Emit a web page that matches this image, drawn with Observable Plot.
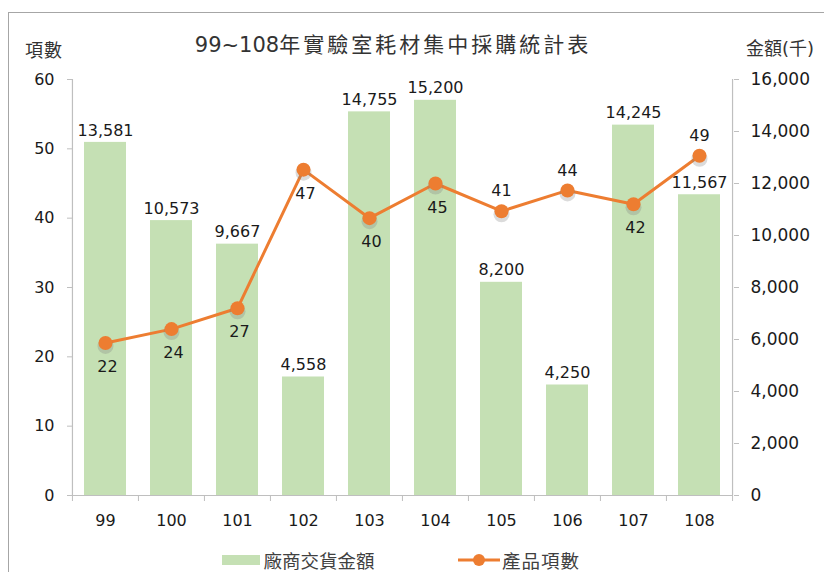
<!DOCTYPE html>
<html><head><meta charset="utf-8">
<script src="https://cdn.jsdelivr.net/npm/d3@7"></script>
<script src="https://cdn.jsdelivr.net/npm/@observablehq/plot@0.6"></script>
<style>
html,body{margin:0;padding:0;background:#fff;}
#wrap{position:relative;width:824px;height:572px;overflow:hidden;font-family:"DejaVu Sans","Noto Sans CJK TC",sans-serif;color:#1a1a1a;}
#border{position:absolute;left:8px;top:12px;width:900px;height:700px;border-top:1px solid #a6a6a6;border-left:1px solid #a6a6a6;}
#chart{position:absolute;left:0;top:0;}
.t{position:absolute;white-space:nowrap;line-height:1;transform:translate(-50%,-50%);}
.cjk{font-family:"Noto Sans CJK TC","DejaVu Sans",sans-serif;}
#legend{position:absolute;left:0;top:0;width:824px;height:572px;pointer-events:none;}
</style></head><body>
<div id="wrap">
  <div id="border"></div>
  <div id="chart"></div>
  <div class="t" id="title" style="left:393px;top:44px;font-size:21px;color:#333"><span>99~108</span><span class="cjk" style="letter-spacing:3px">年實驗室耗材集中採購統計表</span></div>
  <div class="t cjk" id="ylabL" style="left:44px;top:49px;font-size:18px;letter-spacing:1px;color:#333">項數</div>
  <div class="t" id="ylabR" style="left:780px;top:48px;font-size:18px;color:#333"><span class="cjk">金額</span>(<span class="cjk">千</span>)</div>
  <div id="legend"></div>
</div>
<script>
const years = ["99","100","101","102","103","104","105","106","107","108"];
const amounts = [13581, 10573, 9667, 4558, 14755, 15200, 8200, 4250, 14245, 11567]; // 廠商交貨金額 (千)
const items = [22, 24, 27, 47, 40, 45, 41, 44, 42, 49]; // 產品項數
const itemTicks = [0, 10, 20, 30, 40, 50, 60];
const amountTicks = [0, 2000, 4000, 6000, 8000, 10000, 12000, 14000, 16000];
const seriesNames = ["廠商交貨金額", "產品項數"];
const itemLabelsAbove = new Set(["105", "106", "108"]);

const W = 824, H = 572, mL = 72, mR = 91, mT = 79, mB = 77;
const itemMax = 60, amountMax = 16000;
const k = itemMax / amountMax; // amount -> left-axis units
const halfStep = (W - mL - mR) / years.length / 2;
const pxToItem = itemMax / (H - mT - mB);
const fmt = d3.format(",");

const data = years.map((y, i) => ({year: y, amount: amounts[i], items: items[i]}));

const green = "#c5e0b4", orange = "#ed7d31", axisGray = "#bfbfbf", txt = "#1a1a1a";

const chart = Plot.plot({
  width: W, height: H,
  marginLeft: mL, marginRight: mR, marginTop: mT, marginBottom: mB,
  style: {fontFamily: "DejaVu Sans, sans-serif", fontSize: "16px", color: txt, background: "transparent", overflow: "visible"},
  x: {domain: years, paddingInner: 0.36, paddingOuter: 0.18, axis: null},
  y: {domain: [0, itemMax], axis: null},
  marks: [
    Plot.barY(data, {x: "year", y: d => d.amount * k, fill: green}),
    // axis lines
    Plot.ruleY([0], {stroke: axisGray, strokeWidth: 1.2}),
    Plot.ruleX([years[0]], {dx: -halfStep, y1: 0, y2: itemMax, stroke: axisGray, strokeWidth: 1.2}),
    Plot.ruleX([years[years.length - 1]], {dx: halfStep, y1: 0, y2: itemMax, stroke: axisGray, strokeWidth: 1.2}),
    // category boundary ticks
    Plot.ruleX(years, {dx: -halfStep, y1: 0, y2: -6 * pxToItem, stroke: axisGray}),
    Plot.ruleX([years[years.length - 1]], {dx: halfStep, y1: 0, y2: -6 * pxToItem, stroke: axisGray}),
    Plot.axisY({anchor: "left", ticks: itemTicks, tickSize: 5, tickPadding: 13, stroke: axisGray, fill: txt, fontSize: 16, label: null}),
    Plot.axisY({anchor: "right", ticks: amountTicks.map(v => v * k), tickFormat: v => fmt(Math.round(v / k)), tickSize: 5, tickPadding: 12, stroke: axisGray, fill: txt, fontSize: 17, label: null}),
    Plot.text(data, {x: "year", y: 0, text: "year", dy: 25, fill: txt, fontSize: 16}),
    // bar value labels
    Plot.text(data, {x: "year", y: d => d.amount * k, text: d => fmt(d.amount), dy: -12, fill: txt, fontSize: 16}),
    // line series
    Plot.line(data, {x: "year", y: "items", stroke: orange, strokeWidth: 3}),
    Plot.dot(data, {x: "year", y: "items", r: 8, fill: "#7f7f7f", fillOpacity: 0.28, dy: 3}),
    Plot.dot(data, {x: "year", y: "items", r: 7, fill: orange}),
    Plot.text(data.filter(d => !itemLabelsAbove.has(d.year)), {x: "year", y: "items", text: "items", dy: 24, dx: 2, fill: txt, fontSize: 16}),
    Plot.text(data.filter(d => itemLabelsAbove.has(d.year)), {x: "year", y: "items", text: "items", dy: -20, fill: txt, fontSize: 16})
  ]
});
document.getElementById("chart").appendChild(chart);

// legend
const legend = document.getElementById("legend");
legend.innerHTML = `
  <div style="position:absolute;left:222px;top:555px;width:38px;height:10px;background:${green}"></div>
  <div class="t cjk" style="left:319px;top:560px;font-size:18.5px;color:#404040;transform:translate(-50%,-50%)">${seriesNames[0]}</div>
  <svg style="position:absolute;left:456px;top:550px" width="46" height="20"><line x1="2" y1="10" x2="44" y2="10" stroke="${orange}" stroke-width="3"/><circle cx="23" cy="10" r="6" fill="${orange}"/></svg>
  <div class="t cjk" style="left:541px;top:560px;font-size:18.5px;letter-spacing:1px;color:#404040;transform:translate(-50%,-50%)">${seriesNames[1]}</div>
`;
</script>
</body></html>
